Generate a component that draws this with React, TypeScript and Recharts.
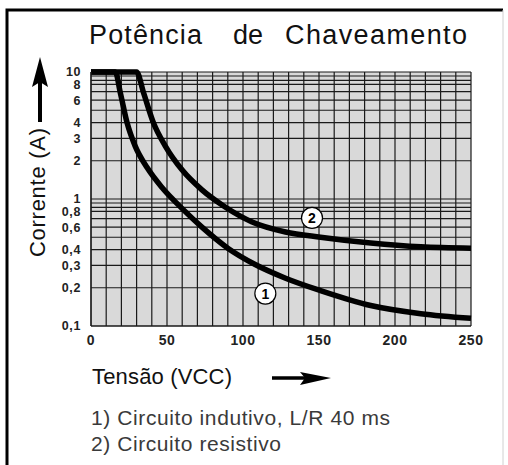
import { CartesianGrid, Line, LineChart, ReferenceDot, XAxis, YAxis } from "recharts";

// curve 1: inductive load, L/R 40 ms (V, A)
const indutivoV = [0, 16, 19.3, 23.7, 29, 37, 47, 60, 73, 90, 108, 128, 151, 184, 217, 250];
const indutivoA = [10, 10, 6.85, 4, 2.62, 1.76, 1.22, 0.84, 0.6, 0.41, 0.305, 0.238, 0.19, 0.145, 0.125, 0.115];

// curve 2: resistive load
const resistivoV = [0, 30, 34.6, 41, 49, 60, 73, 88, 106, 128, 151, 184, 217, 250];
const resistivoA = [10, 10, 6.85, 4, 2.6, 1.69, 1.18, 0.87, 0.66, 0.55, 0.5, 0.45, 0.42, 0.41];

// grid lines as drawn on the sheet
const xGrid = [0, 10, 20, 30, 40, 50, 60, 70, 80, 90, 100, 110, 120, 130, 140, 150, 160, 170, 180, 190, 200, 210, 220, 230, 240, 250];
const xLabels = [0, 50, 100, 150, 200, 250];
const yGrid = [0.1, 0.2, 0.3, 0.4, 0.5, 0.6, 0.7, 0.8, 0.86, 0.93, 1, 2, 3, 4, 5, 6, 7, 8, 8.6, 9.3, 10];
const yLabels = [0.1, 0.2, 0.3, 0.4, 0.6, 0.8, 1, 2, 3, 4, 6, 8, 10];

// circled curve numbers
const markerNames = ["1", "2"];
const markerV = [114.7, 145.4];
const markerA = [0.18, 0.71];

const legendLines = ["1) Circuito indutivo, L/R 40 ms", "2) Circuito resistivo"];

const font = '"Liberation Sans", Arial, sans-serif';

const toPoints = (vs: number[], as: number[]) => vs.map((v, i) => ({ v, a: as[i] }));

export default function App() {
  const curve1 = toPoints(indutivoV, indutivoA);
  const curve2 = toPoints(resistivoV, resistivoA);

  return (
    <div style={{ position: "absolute", left: 0, top: 0, width: 508, height: 465, background: "#fff", fontFamily: font }}>
      <LineChart width={508} height={465} margin={{ top: 72, right: 37, left: 51, bottom: 119 }}>
        <CartesianGrid fill="#d9d9d9" stroke="#1a1a1a" strokeWidth={1.2} strokeOpacity={1} />
        <XAxis
          type="number"
          dataKey="v"
          domain={[0, 250]}
          ticks={xGrid}
          interval={0}
          height={20}
          tickLine={false}
          axisLine={{ stroke: "#1a1a1a", strokeWidth: 1.2 }}
          tickSize={0}
          tickMargin={9}
          tick={{ fontSize: 14, fill: "#222", fontWeight: "bold", fontFamily: font, letterSpacing: 0.5 }}
          tickFormatter={(v) => (xLabels.includes(v) ? String(v) : "")}
        />
        <YAxis
          type="number"
          scale="log"
          domain={[0.1, 10]}
          ticks={yGrid}
          interval={0}
          width={40}
          tickLine={false}
          axisLine={{ stroke: "#1a1a1a", strokeWidth: 1.2 }}
          tickSize={0}
          tickMargin={10}
          tick={{ fontSize: 12.5, fill: "#222", fontWeight: "bold", fontFamily: font, letterSpacing: 0.6 }}
          tickFormatter={(v) => (yLabels.includes(v) ? String(v).replace(".", ",") : "")}
        />
        <Line data={curve1} dataKey="a" type="monotone" stroke="#000" strokeWidth={5.5} dot={false} isAnimationActive={false} />
        <Line data={curve2} dataKey="a" type="monotone" stroke="#000" strokeWidth={5.5} dot={false} isAnimationActive={false} />
        {markerNames.map((name, i) => (
          <ReferenceDot
            key={name}
            x={markerV[i]}
            y={markerA[i]}
            r={10.5}
            fill="#fff"
            stroke="#000"
            strokeWidth={1.2}
            label={{ value: name, position: "center", fontSize: 14, fontWeight: "bold", fill: "#000", fontFamily: font }}
          />
        ))}
      </LineChart>

      <svg width={508} height={465} style={{ position: "absolute", left: 0, top: 0, pointerEvents: "none" }}>
        <path d="M7 465 V10 H503" fill="none" stroke="#000" strokeWidth={3} />
        <line x1={503} y1={10} x2={503} y2={465} stroke="#d0d0d0" strokeWidth={1} />

        <g fontFamily={font} fill="#111" fontSize={27}>
          <text x={89} y={44} textLength={113} lengthAdjust="spacing">Potência</text>
          <text x={233} y={44} textLength={30} lengthAdjust="spacing">de</text>
          <text x={285} y={44} textLength={182} lengthAdjust="spacing">Chaveamento</text>
        </g>

        {/* vertical axis arrow and title */}
        <line x1={40} y1={122} x2={40} y2={82} stroke="#000" strokeWidth={4} />
        <polygon points="40,57 48,87 40,82 32,87" fill="#000" />
        <text
          x={0}
          y={0}
          transform="translate(37,192.5) rotate(-90)"
          textAnchor="middle"
          dominantBaseline="central"
          fontSize={22}
          fill="#111"
          fontFamily={font}
          textLength={129}
          lengthAdjust="spacing"
        >
          Corrente (A)
        </text>

        {/* horizontal axis title and arrow */}
        <text x={92} y={384} fontSize={22} fill="#111" fontFamily={font} textLength={140} lengthAdjust="spacing">
          Tensão (VCC)
        </text>
        <line x1={272} y1={378} x2={305} y2={378} stroke="#000" strokeWidth={3.5} />
        <polygon points="331,378 300,372 305,378 300,385" fill="#000" />

        <g fontFamily={font} fill="#3a3a3a" fontSize={21}>
          <text x={91} y={425} textLength={299} lengthAdjust="spacing">{legendLines[0]}</text>
          <text x={91} y={451} textLength={190} lengthAdjust="spacing">{legendLines[1]}</text>
        </g>
      </svg>
    </div>
  );
}
